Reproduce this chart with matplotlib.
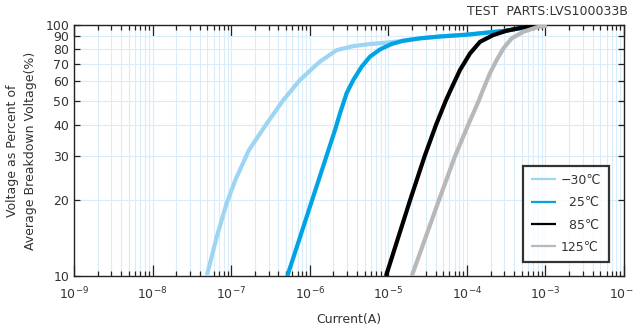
import numpy as np
import matplotlib.pyplot as plt
from matplotlib.ticker import LogLocator, FixedLocator, NullFormatter, LogFormatterSciNotation

# curve data (current in A, voltage in %)
cur_m30 = [4.89e-8, 6.55e-8, 8.77e-8, 1.13e-7, 1.68e-7, 2.84e-7, 4.61e-7, 7.52e-7, 1.35e-6,
           2.2e-6, 3.59e-6, 5.85e-6, 9.55e-6, 1.4e-5, 2.54e-5, 4.55e-5, 1.0e-4, 3.2e-4,
           5.2e-4, 9.4e-4]
pct_m30 = [10, 14.3, 19.5, 24.1, 31.7, 40.5, 50.2, 60.4, 71.5,
           79.4, 82.4, 84, 85, 86.2, 88.5, 90, 91.5, 95,
           97.5, 100]

cur_25 = [5.19e-7, 2.1e-6, 2.43e-6, 2.95e-6, 3.59e-6, 4.58e-6, 5.85e-6, 7.83e-6, 1.1e-5,
          1.55e-5, 2.54e-5, 4.55e-5, 1.0e-4, 3.2e-4, 5.2e-4, 9.4e-4]
pct_25 = [10, 38.2, 44.5, 53.5, 60.4, 68.2, 74.8, 79.9, 84,
          86.5, 88.5, 90, 91.5, 95, 97.5, 100]

cur_85 = [9.35e-6, 1.89e-5, 2.9e-5, 4.05e-5, 5.4e-5, 6.2e-5, 8.18e-5, 1.1e-4, 1.47e-4,
          2.17e-4, 3.21e-4, 5.24e-4, 8.5e-4, 1.0e-3]
pct_85 = [10, 20, 30, 40, 50, 55, 66.2, 77.1, 85.7,
          91.2, 94.9, 97.9, 99.3, 100]

cur_125 = [1.99e-5, 4.4e-5, 7.06e-5, 1.04e-4, 1.42e-4, 1.6e-4, 1.97e-4, 2.4e-4, 2.92e-4,
           3.72e-4, 5.24e-4, 7.76e-4, 1.05e-3]
pct_125 = [10, 20, 30, 40, 50, 55, 64.3, 72.6, 80.7,
           88.5, 94, 97.9, 99.3]

labels = ['\u221230\u2103', '\u200725\u2103', '\u200785\u2103', '125\u2103']
colors = ['#9dd5f3', '#00a3e4', '#000000', '#b8b8b8']
yticks = [10, 20, 30, 40, 50, 60, 70, 80, 90, 100]

txt = '#333333'
fig = plt.figure(figsize=(6.33, 3.27), dpi=100)
ax = fig.add_axes([74/633, 1-276/327, 550/633, 251/327])

series = [(cur_m30, pct_m30), (cur_25, pct_25), (cur_85, pct_85), (cur_125, pct_125)]
for (x, y), c, lab in zip(series, colors, labels):
    ax.plot(x, y, color=c, lw=3, label=lab, solid_capstyle='butt',
            solid_joinstyle='round', zorder=3)

ax.set_xscale('log')
ax.set_yscale('log')
ax.set_xlim(1e-9, 1e-2)
ax.set_ylim(10, 100)

ax.xaxis.set_major_locator(LogLocator(base=10, numticks=20))
ax.xaxis.set_minor_locator(LogLocator(base=10, subs=np.arange(2, 10), numticks=20))
ax.xaxis.set_major_formatter(LogFormatterSciNotation())
ax.xaxis.set_minor_formatter(NullFormatter())
ax.yaxis.set_major_locator(FixedLocator(yticks))
ax.yaxis.set_minor_locator(FixedLocator([]))
ax.set_yticklabels([str(v) for v in yticks])

ax.grid(True, which='both', axis='x', color='#d8ecf9', lw=0.8, zorder=0)
ax.grid(True, which='major', axis='y', color='#d8ecf9', lw=0.8, zorder=0)

ax.tick_params(which='both', direction='in', top=True, right=True, colors='#222222',
               labelcolor=txt, labelsize=9, width=0.9)
ax.tick_params(which='major', axis='x', length=8)
ax.tick_params(which='minor', axis='x', length=3.5)
ax.tick_params(which='major', axis='y', length=4)
ax.tick_params(axis='x', pad=7)
for s in ax.spines.values():
    s.set_color('#222222')
    s.set_linewidth(1.0)

ax.set_xlabel('Current(A)', fontsize=9, color=txt, labelpad=8)
ax.set_ylabel('Voltage as Percent of\nAverage Breakdown Voltage(%)', fontsize=9,
              color=txt, labelpad=6, linespacing=1.45)

fig.text(628/633, 1-15/327, 'TEST  PARTS:LVS100033B', ha='right', va='baseline',
         fontsize=9, color=txt)

leg = ax.legend(loc='lower right', bbox_to_anchor=(0.973, 0.056), fontsize=9,
                frameon=True, fancybox=False, edgecolor='#000000', handlelength=2.0,
                labelspacing=0.75, borderpad=0.65, handletextpad=0.35, borderaxespad=0)
leg.get_frame().set_linewidth(1.6)
for t in leg.get_texts():
    t.set_color(txt)
for l in leg.get_lines():
    l.set_linewidth(1.6)

fig.savefig('out.png', dpi=100)
